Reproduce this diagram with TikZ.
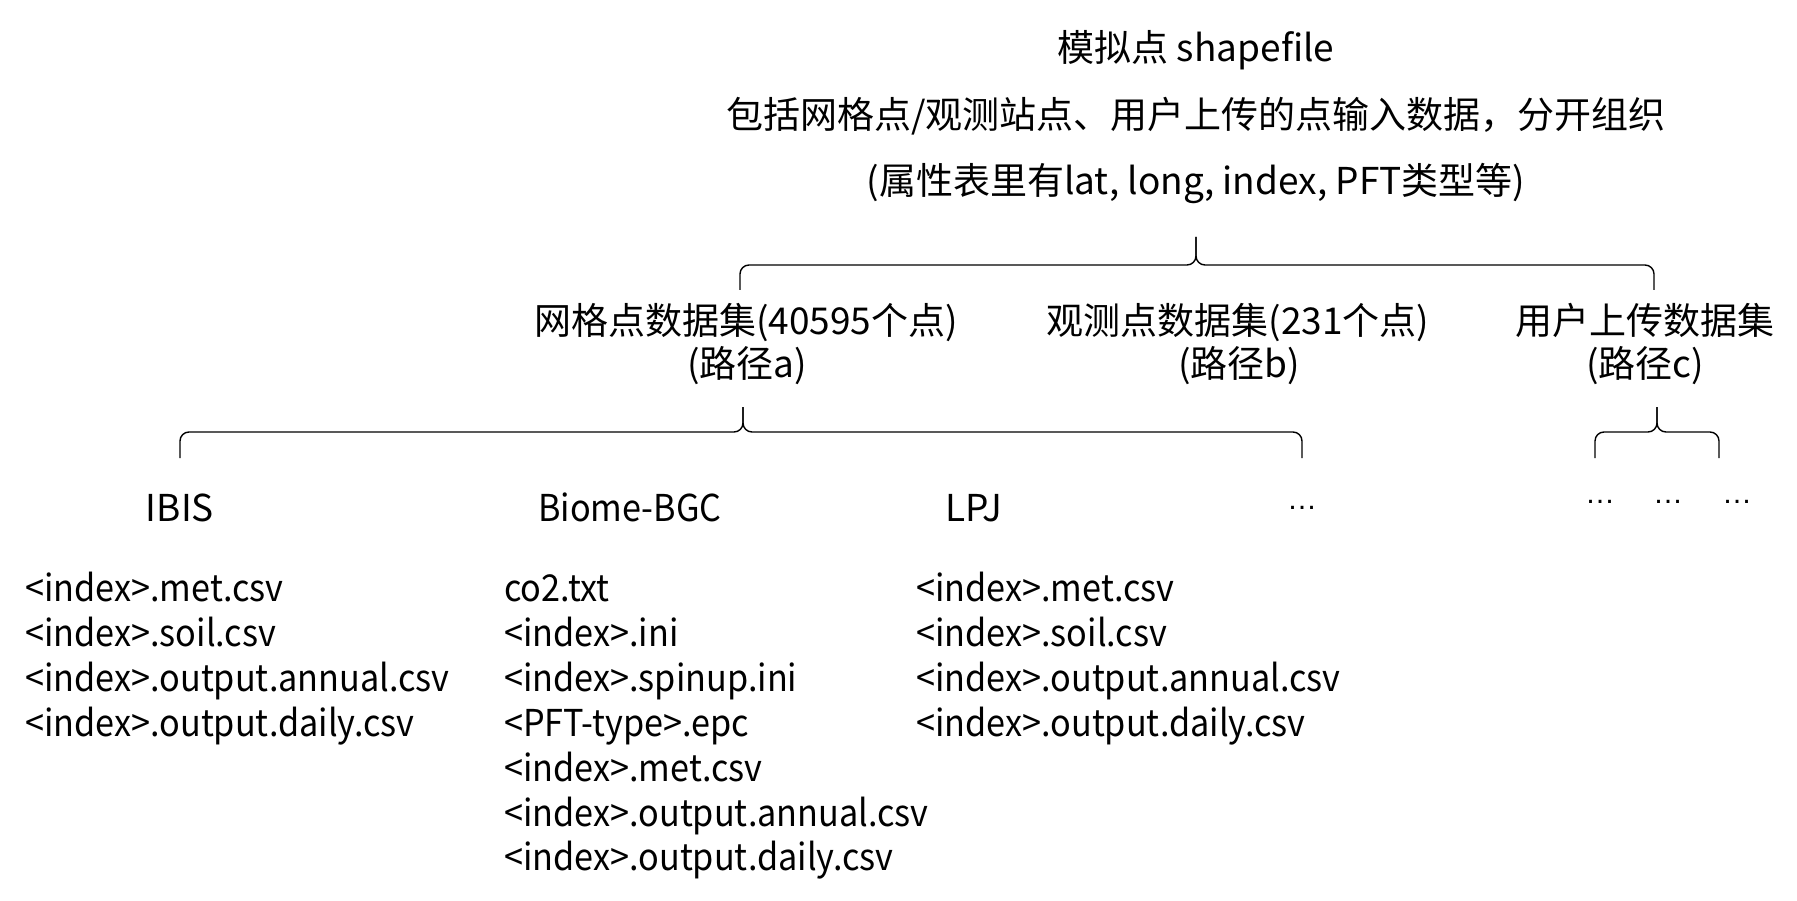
\documentclass[tikz,border=0pt]{standalone}
\usepackage{fontspec}
\setmainfont{Noto Sans CJK SC}
\newfontfamily\filefont[FakeStretch=0.925]{Noto Sans CJK SC}
\newfontfamily\dotsfont{Liberation Sans}
\begin{document}
\begin{tikzpicture}[x=1pt,y=-1pt,
  txt/.style={inner sep=0pt, text height=32pt, text depth=5pt, font=\fontsize{37}{44}\selectfont},
  file/.style={txt, anchor=west, font=\filefont\fontsize{37}{44}\selectfont},
  more/.style={inner sep=0pt, anchor=base, font=\dotsfont\fontsize{30}{36}\selectfont},
  brace/.style={draw, line width=1.4pt, rounded corners=9pt}
]
\useasboundingbox[fill=white] (0,0) rectangle (1797,901);

% top level
\node[txt] (title1) at (1196,48) {模拟点 shapefile};
\node[txt] (title2) at (1196,115) {包括网格点/观测站点、用户上传的点输入数据，分开组织};
\node[txt] (title3) at (1196,181) {(属性表里有lat, long, index, PFT类型等)};

% second level
\node[txt] (grid)  at (746,321)  {网格点数据集(40595个点)};
\node[txt] (gridp) at (747,364)  {(路径a)};
\node[txt] (obs)   at (1238,321) {观测点数据集(231个点)};
\node[txt] (obsp)  at (1239,364) {(路径b)};
\node[txt] (user)  at (1645,321) {用户上传数据集};
\node[txt] (userp) at (1645,364) {(路径c)};

% third level
\node[txt] (ibis)  at (180,508) {IBIS};
\node[txt, font=\filefont\fontsize{37}{44}\selectfont] (biome) at (630,508) {Biome-BGC};
\node[txt] (lpj)   at (974,508) {LPJ};
\node[more] (m0) at (1302,509) {…};
\node[more] (m1) at (1600,503) {…};
\node[more] (m2) at (1668,503) {…};
\node[more] (m3) at (1737,503) {…};

% file lists
\node[file] (i1) at (25,588) {<index>.met.csv};
\node[file] (i2) at (25,633) {<index>.soil.csv};
\node[file] (i3) at (25,678) {<index>.output.annual.csv};
\node[file] (i4) at (25,723) {<index>.output.daily.csv};

\node[file] (b1) at (504,588) {co2.txt};
\node[file] (b2) at (504,633) {<index>.ini};
\node[file] (b3) at (504,678) {<index>.spinup.ini};
\node[file] (b4) at (504,723) {<PFT-type>.epc};
\node[file] (b5) at (504,768) {<index>.met.csv};
\node[file] (b6) at (504,813) {<index>.output.annual.csv};
\node[file] (b7) at (504,857) {<index>.output.daily.csv};

\node[file] (l1) at (916,588) {<index>.met.csv};
\node[file] (l2) at (916,633) {<index>.soil.csv};
\node[file] (l3) at (916,678) {<index>.output.annual.csv};
\node[file] (l4) at (916,723) {<index>.output.daily.csv};

% braces
\coordinate (t1) at (1196,237);
\coordinate (h1) at (1196,265);
\coordinate (e1l) at (740,290);
\coordinate (e1r) at (1654,290);
\draw[brace] (e1l) |- (h1) -- (t1);
\draw[brace] (e1r) |- (h1) -- (t1);

\coordinate (t2) at (743,407);
\coordinate (h2) at (743,432);
\coordinate (e2l) at (180,458);
\coordinate (e2r) at (1302,458);
\draw[brace] (e2l) |- (h2) -- (t2);
\draw[brace] (e2r) |- (h2) -- (t2);

\coordinate (t3) at (1657,407);
\coordinate (h3) at (1657,432);
\coordinate (e3l) at (1595,458);
\coordinate (e3r) at (1719,458);
\draw[brace] (e3l) |- (h3) -- (t3);
\draw[brace] (e3r) |- (h3) -- (t3);
\end{tikzpicture}
\end{document}
